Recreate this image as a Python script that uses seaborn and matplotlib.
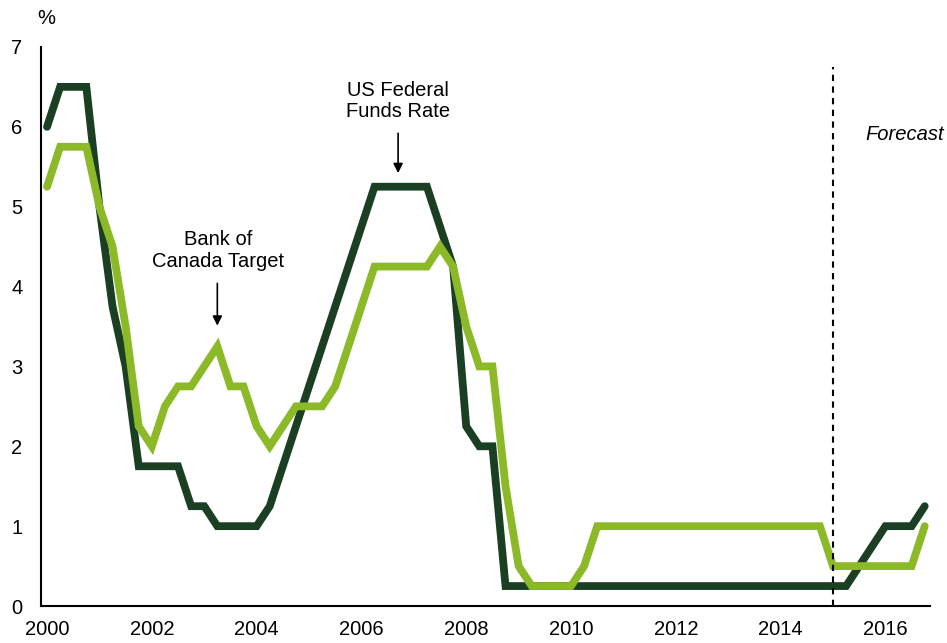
import numpy as np
import pandas as pd
import matplotlib
matplotlib.use("Agg")
import matplotlib.pyplot as plt
import seaborn as sns

# quarterly policy rates, 2000Q1 .. 2016Q4
quarters = np.arange(2000, 2017, 0.25)

us_fed = [6.0, 6.5, 6.5, 6.5,
          5.0, 3.75, 3.0, 1.75,
          1.75, 1.75, 1.75, 1.25,
          1.25, 1.0, 1.0, 1.0,
          1.0, 1.25, 1.75, 2.25,
          2.75, 3.25, 3.75, 4.25,
          4.75, 5.25, 5.25, 5.25,
          5.25, 5.25, 4.75, 4.25,
          2.25, 2.0, 2.0, 0.25,
          0.25, 0.25, 0.25, 0.25,
          0.25, 0.25, 0.25, 0.25,
          0.25, 0.25, 0.25, 0.25,
          0.25, 0.25, 0.25, 0.25,
          0.25, 0.25, 0.25, 0.25,
          0.25, 0.25, 0.25, 0.25,
          0.25, 0.25, 0.5, 0.75,
          1.0, 1.0, 1.0, 1.25]

boc_target = [5.25, 5.75, 5.75, 5.75,
              5.0, 4.5, 3.5, 2.25,
              2.0, 2.5, 2.75, 2.75,
              3.0, 3.25, 2.75, 2.75,
              2.25, 2.0, 2.25, 2.5,
              2.5, 2.5, 2.75, 3.25,
              3.75, 4.25, 4.25, 4.25,
              4.25, 4.25, 4.5, 4.25,
              3.5, 3.0, 3.0, 1.5,
              0.5, 0.25, 0.25, 0.25,
              0.25, 0.5, 1.0, 1.0,
              1.0, 1.0, 1.0, 1.0,
              1.0, 1.0, 1.0, 1.0,
              1.0, 1.0, 1.0, 1.0,
              1.0, 1.0, 1.0, 1.0,
              0.5, 0.5, 0.5, 0.5,
              0.5, 0.5, 0.5, 1.0]

series_names = ["US Federal Funds Rate", "Bank of Canada Target"]
colors = ["#1a3f23", "#8cb927"]
x_ticks = [2000, 2002, 2004, 2006, 2008, 2010, 2012, 2014, 2016]
y_ticks = [0, 1, 2, 3, 4, 5, 6, 7]
forecast_start = 2015.0

df = pd.DataFrame({
    "quarter": np.concatenate([quarters, quarters]),
    "rate": us_fed + boc_target,
    "series": [series_names[0]] * len(quarters) + [series_names[1]] * len(quarters),
})

sns.set_style("white")
plt.rcParams["font.family"] = ["Liberation Sans", "DejaVu Sans"]
plt.rcParams["text.color"] = "black"
plt.rcParams["xtick.color"] = "black"
plt.rcParams["ytick.color"] = "black"
fs = 14.5

fig = plt.figure(figsize=(9.47, 6.43), dpi=100)
ax = fig.add_axes([0.0433, 0.0575, 0.9387, 0.8695])

sns.lineplot(data=df, x="quarter", y="rate", hue="series",
             palette=colors, linewidth=5.6, legend=False, ax=ax,
             solid_joinstyle="miter", solid_capstyle="round")

# forecast divider
ax.vlines(forecast_start, 0, 6.75, color="black",
          linestyle=(0, (3, 2.6)), linewidth=1.5)

ax.set_xlim(1999.885, 2016.85)
ax.set_ylim(0, 7)
ax.set_xticks(x_ticks)
ax.set_yticks(y_ticks)
ax.tick_params(axis="both", length=0, labelsize=fs, labelcolor="black")
ax.tick_params(axis="x", pad=9.8)
ax.tick_params(axis="y", pad=13.5)
ax.set_xlabel("")
ax.set_ylabel("")

for side in ["top", "right"]:
    ax.spines[side].set_visible(False)
for side in ["left", "bottom"]:
    ax.spines[side].set_color("black")
    ax.spines[side].set_linewidth(1.5)

fig.text(37 / 947, 1 - 18 / 643, "%", fontsize=fs, ha="left", va="center")

# annotations
arrow = dict(arrowstyle="-|>", color="black", lw=1.2,
             mutation_scale=14, shrinkA=0, shrinkB=0)
ax.text(2006.7, 6.325, "US Federal\nFunds Rate", ha="center", va="center",
        fontsize=fs, linespacing=1.15)
ax.annotate("", xy=(2006.7, 5.42), xytext=(2006.7, 5.92), arrowprops=arrow)

ax.text(2003.26, 4.45, "Bank of\nCanada Target", ha="center", va="center",
        fontsize=fs, linespacing=1.15)
ax.annotate("", xy=(2003.25, 3.51), xytext=(2003.25, 4.04), arrowprops=arrow)

fig.text(944 / 947, 1 - 135 / 643, "Forecast", fontstyle="italic", fontsize=fs,
         ha="right", va="center")

fig.savefig("out.png", dpi=100)
